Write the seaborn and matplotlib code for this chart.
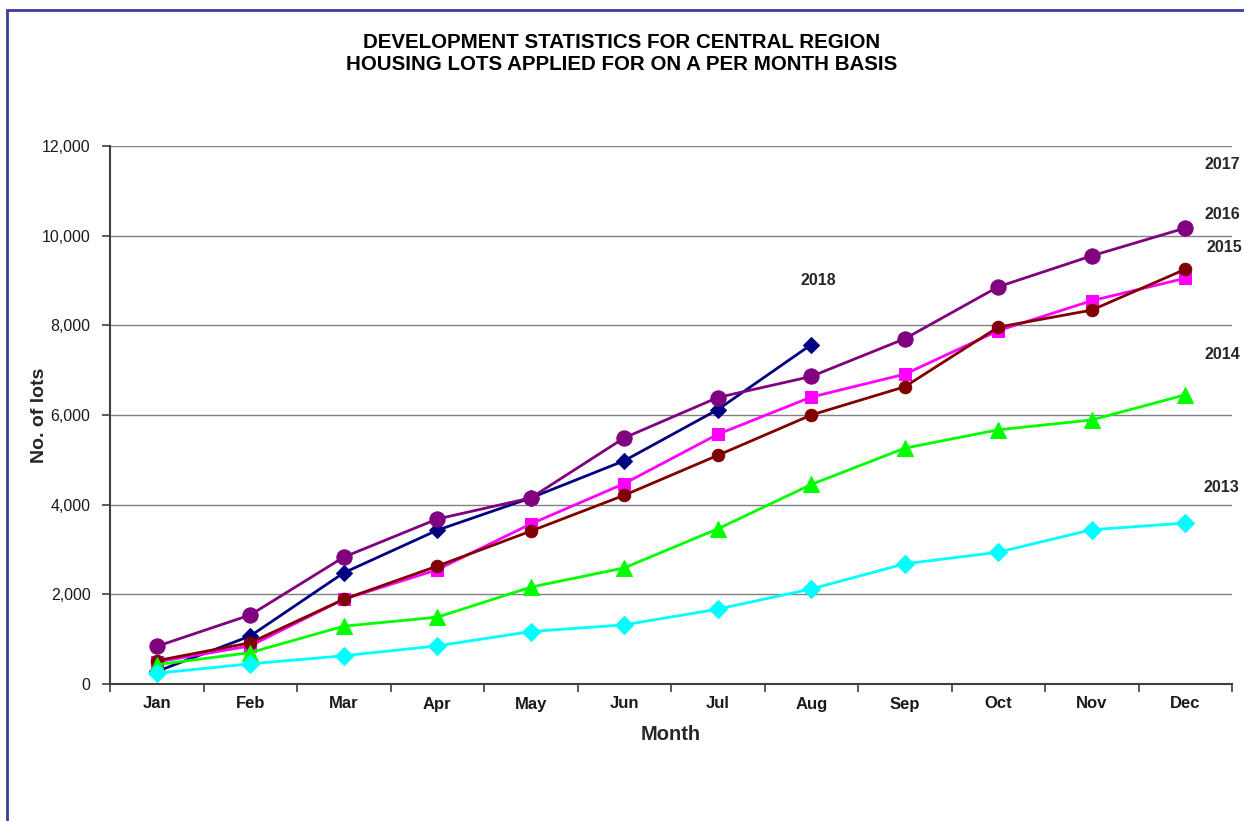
import matplotlib
matplotlib.use("Agg")
import matplotlib.pyplot as plt
from matplotlib.patches import Rectangle
from matplotlib.ticker import FuncFormatter, MultipleLocator, FixedLocator
import seaborn as sns
import pandas as pd

months = ["Jan", "Feb", "Mar", "Apr", "May", "Jun", "Jul", "Aug", "Sep", "Oct", "Nov", "Dec"]

lots_2013 = [240, 450, 630, 850, 1170, 1320, 1670, 2120, 2680, 2940, 3440, 3590]
lots_2014 = [430, 700, 1290, 1490, 2160, 2590, 3460, 4450, 5260, 5670, 5890, 6450]
lots_2015 = [520, 920, 1890, 2630, 3410, 4210, 5100, 6000, 6630, 7960, 8340, 9250]
lots_2016 = [490, 850, 1890, 2550, 3570, 4470, 5570, 6400, 6910, 7880, 8550, 9050]
lots_2017 = [840, 1540, 2830, 3680, 4150, 5490, 6390, 6860, 7700, 8860, 9550, 10170]
lots_2018 = [280, 1070, 2480, 3430, 4150, 4980, 6120, 7570]

# year label text and its anchor (month position, lots)
year_labels = ["2017", "2016", "2015", "2014", "2013", "2018"]
label_x = [11.21, 11.21, 11.23, 11.21, 11.20, 6.88]
label_y = [11580, 10480, 9730, 7340, 4390, 9010]

series = [
    ("2018", lots_2018, "#000080", "D", 8.5),
    ("2017", lots_2017, "#800080", "o", 11),
    ("2016", lots_2016, "#FF00FF", "s", 9),
    ("2015", lots_2015, "#800000", "o", 9),
    ("2014", lots_2014, "#00FF00", "^", 11),
    ("2013", lots_2013, "#00FFFF", "D", 9.5),
]

sns.set_theme(style="white")
plt.rcParams["font.family"] = ["Liberation Sans", "DejaVu Sans"]

fig = plt.figure(figsize=(12.44, 8.21), dpi=100)
ax = fig.add_axes([110 / 1244, 1 - 684 / 821, (1232 - 110) / 1244, (684 - 146) / 821])

for year, vals, color, marker, ms in series:
    df = pd.DataFrame({"month": months[:len(vals)], "lots": vals})
    sns.lineplot(data=df, x="month", y="lots", ax=ax, color=color, marker=marker,
                 markersize=ms, markeredgecolor=color, linewidth=2, sort=False,
                 legend=False)

ax.set_xlim(-0.5, 11.5)
ax.set_ylim(0, 12000)
ax.yaxis.set_major_locator(MultipleLocator(2000))
ax.yaxis.set_major_formatter(FuncFormatter(lambda v, p: f"{int(v):,}"))
ax.grid(axis="y", color="#808080", linewidth=1)
ax.set_axisbelow(True)

ax.set_xticks(range(12))
ax.set_xticklabels(months, fontsize=12, fontweight="bold", color="#1a1a1a")
ax.xaxis.set_minor_locator(FixedLocator([i - 0.5 for i in range(13)]))
ax.tick_params(axis="x", which="major", length=0, pad=9)
ax.tick_params(axis="x", which="minor", length=6, width=1.2, color="#404040", direction="out")
ax.tick_params(axis="y", length=6, width=1.2, color="#404040", direction="out",
               labelsize=11.5, labelcolor="#1a1a1a", pad=8)
ax.tick_params(bottom=True, left=True, which="both")
ax.tick_params(axis="x", which="major", bottom=False)

for side in ["top", "right"]:
    ax.spines[side].set_visible(False)
for side in ["left", "bottom"]:
    ax.spines[side].set_color("#404040")
    ax.spines[side].set_linewidth(1.5)

ax.set_xlabel("Month", fontsize=14.5, fontweight="bold", labelpad=10)
ax.set_ylabel("No. of lots", fontsize=14, fontweight="bold")
ax.yaxis.set_label_coords(-0.055, 0.5)

for text, x, y in zip(year_labels, label_x, label_y):
    ax.text(x, y, text, fontsize=11.5, fontweight="bold", ha="left", va="center",
            clip_on=False)

fig.text(0.5, 1 - 42 / 821, "DEVELOPMENT STATISTICS FOR CENTRAL REGION",
         ha="center", va="center", fontsize=14.8, fontweight="bold", color="black")
fig.text(0.5, 1 - 65 / 821, "HOUSING LOTS APPLIED FOR ON A PER MONTH BASIS",
         ha="center", va="center", fontsize=14.8, fontweight="bold", color="black")

fig.patches.append(Rectangle((7 / 1244, -0.1), 1.2, 1 - 10 / 821 + 0.1,
                             transform=fig.transFigure, fill=False,
                             edgecolor="#3c3c9c", linewidth=2))

fig.savefig("out.png", dpi=100)
